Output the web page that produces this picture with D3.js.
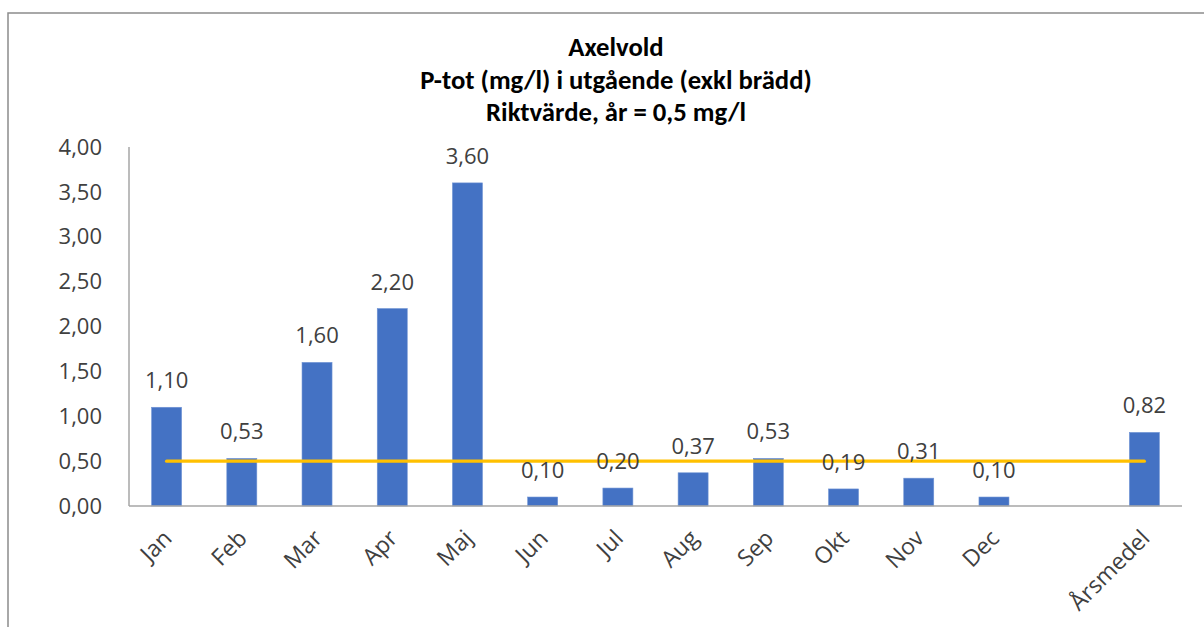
<!DOCTYPE html>
<html><head><meta charset="utf-8">
<script src="https://cdn.jsdelivr.net/npm/d3@7"></script>
<style>body{margin:0;background:#fff;}svg{display:block;}</style>
</head><body>
<svg id="c" width="1204" height="627"></svg>
<script>
const categories = ["Jan","Feb","Mar","Apr","Maj","Jun","Jul","Aug","Sep","Okt","Nov","Dec","","Årsmedel"];
const values = [1.10,0.53,1.60,2.20,3.60,0.10,0.20,0.37,0.53,0.19,0.31,0.10,null,0.82];
const target = [0.5,0.5,0.5,0.5,0.5,0.5,0.5,0.5,0.5,0.5,0.5,0.5,0.5,0.5];
const yTicks = [0,0.5,1,1.5,2,2.5,3,3.5,4];
const titleLines = ["Axelvold","P-tot (mg/l) i utgående (exkl brädd)","Riktvärde, år = 0,5 mg/l"];

const svg = d3.select("#c");
const fmt = v => d3.format(".2f")(v).replace(".", ",");
const pL = 129, pR = 1182, pT = 147, pB = 506;

svg.append("rect").attr("x",8).attr("y",13).attr("width",1220).attr("height",640)
  .attr("fill","#fff").attr("stroke","#8c8c8c").attr("stroke-width",1.5);

const x = d3.scaleBand().domain(categories.map((c,i)=>i)).range([pL,pR]).padding(0);
const y = d3.scaleLinear().domain([0,4]).range([pB,pT]);
const bw = 30;

// title
const tf = "Carlito, 'Liberation Sans Narrow', 'Arial Narrow', 'Liberation Sans', sans-serif";
const tys = [56, 89, 121];
const tNodes = titleLines.map((t,i)=>
  svg.append("text").attr("x",616).attr("y",tys[i]).attr("text-anchor","middle")
    .attr("font-family",tf).attr("font-weight","bold").attr("font-size",21)
    .attr("fill","#000").text(t));
const w2 = tNodes[1].node().getComputedTextLength();
const tfs = w2 > 0 ? 21 * 392 / w2 : 26;
tNodes.forEach(n => n.attr("font-size", tfs));

// y axis labels
const lf = "'Open Sans', sans-serif";
svg.append("g").selectAll("text").data(yTicks).join("text")
  .attr("x",102).attr("y",d=>y(d)).attr("dy","0.35em").attr("text-anchor","end")
  .attr("font-family",lf).attr("font-size",22).attr("fill","#404040").text(fmt);

// bars
svg.append("g").selectAll("rect").data(values.map((v,i)=>({v,i})).filter(d=>d.v!=null)).join("rect")
  .attr("x",d=>x(d.i)+x.bandwidth()/2-bw/2).attr("width",bw)
  .attr("y",d=>y(d.v)).attr("height",d=>pB-y(d.v))
  .attr("fill","#4472C4").attr("stroke","#6f93d4").attr("stroke-width",0.6);

// axes lines
svg.append("line").attr("x1",pL).attr("x2",pL).attr("y1",pT).attr("y2",pB)
  .attr("stroke","#a6a6a6").attr("stroke-width",1.5);
svg.append("line").attr("x1",pL).attr("x2",pR).attr("y1",pB).attr("y2",pB)
  .attr("stroke","#a6a6a6").attr("stroke-width",1.5);

// target line
const line = d3.line().x((d,i)=>x(i)+x.bandwidth()/2).y(d=>y(d));
svg.append("path").datum(target).attr("d",line).attr("fill","none")
  .attr("stroke","#FFC000").attr("stroke-width",3.2).attr("stroke-linecap","round");

// value labels
svg.append("g").selectAll("text").data(values.map((v,i)=>({v,i})).filter(d=>d.v!=null)).join("text")
  .attr("x",d=>x(d.i)+x.bandwidth()/2).attr("y",d=>y(d.v)-19).attr("text-anchor","middle")
  .attr("font-family",lf).attr("font-size",22).attr("fill","#404040").text(d=>fmt(d.v));

// x labels
svg.append("g").selectAll("text").data(categories.map((c,i)=>({c,i})).filter(d=>d.c)).join("text")
  .attr("transform",d=>`translate(${x(d.i)+x.bandwidth()/2+1},${pB+28}) rotate(-45)`)
  .attr("text-anchor","end").attr("dy","0.35em")
  .attr("font-family",lf).attr("font-size",23).attr("fill","#404040").text(d=>d.c);
</script>
</body></html>
